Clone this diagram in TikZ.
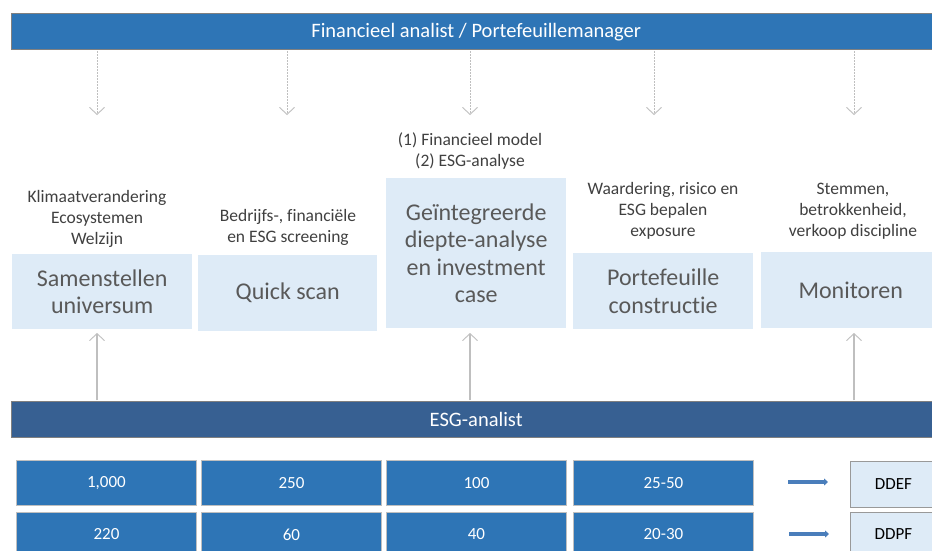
\documentclass[tikz,border=0pt]{standalone}
\usepackage{fontspec}
\setmainfont{Carlito}[Ligatures=NoCommon]
\usetikzlibrary{arrows.meta}
\definecolor{topblue}{HTML}{2E75B6}
\definecolor{esgblue}{HTML}{376092}
\definecolor{lightbox}{HTML}{DEEBF7}
\definecolor{boxtext}{HTML}{595959}
\definecolor{labeltext}{HTML}{404040}
\definecolor{linegray}{HTML}{BFBFBF}
\definecolor{bargray}{HTML}{808080}
\definecolor{arrowblue}{HTML}{4A7EBB}
\begin{document}
\begin{tikzpicture}[x=1pt,y=-1pt,
  bar/.style={draw=bargray, line width=1.4pt, text=white, inner sep=0pt, anchor=north west,
    font=\fontsize{20.5}{24}\selectfont},
  stage/.style={fill=lightbox, draw=none, text=boxtext, inner sep=0pt, anchor=north west, align=center,
    font=\fontsize{24}{27.5}\selectfont},
  lbl/.style={text=labeltext, align=center, inner sep=0pt, font=\fontsize{17.5}{21}\selectfont},
  numbox/.style={fill=topblue, draw=linegray, line width=0.9pt, text=white, inner sep=0pt,
    anchor=north west, minimum width=180pt, font=\fontsize{17}{20}\selectfont},
  ddbox/.style={fill=lightbox, draw=linegray!80!black, line width=0.9pt, text=black, inner sep=0pt,
    anchor=north west, minimum width=86pt, font=\fontsize{17}{20}\selectfont},
  downarr/.style={draw=linegray, line width=0.9pt, dash pattern=on 2pt off 1pt,
    -{Straight Barb[length=7pt,width=15pt,line width=0.9pt]}},
  uparr/.style={draw=linegray, line width=1.2pt,
    -{Straight Barb[length=7pt,width=15pt,line width=0.9pt]}},
  fatarr/.style={draw=arrowblue, line width=3.2pt, -{Triangle[length=4pt,width=7pt]}}
]
\clip (0,0) rectangle (932,551);
\fill[white] (0,0) rectangle (932,551);

% bars
\node[bar, fill=topblue, minimum width=929pt, minimum height=36pt] (fin) at (11,13) {Financieel analist / Portefeuillemanager};
\node[bar, fill=esgblue, minimum width=929pt, minimum height=36pt] (esg) at (11,401) {ESG-analist};

% stage boxes
\node[stage, minimum width=180pt, minimum height=75pt] (s1) at (12,254) {Samenstellen\\universum};
\node[stage, minimum width=179pt, minimum height=76pt] (s2) at (198,255) {Quick scan};
\node[stage, minimum width=180pt, minimum height=150pt] (s3) at (386,178) {Geïntegreerde\\diepte-analyse\\en investment\\case};
\node[stage, minimum width=180pt, minimum height=76pt] (s4) at (573,253) {Portefeuille\\constructie};
\node[stage, minimum width=179pt, minimum height=76pt] (s5) at (761,252) {Monitoren};

% labels above stages
\node[lbl] (l1) at (97,219) {Klimaatverandering\\Ecosystemen\\Welzijn};
\node[lbl] (l2) at (288,227) {Bedrijfs-, financiële\\en ESG screening};
\node[lbl] (l3) at (470,151) {(1) Financieel model\\(2) ESG-analyse};
\node[lbl] (l4) at (663,211) {Waardering, risico en\\ESG bepalen\\exposure};
\node[lbl] (l5) at (853,211) {Stemmen,\\betrokkenheid,\\verkoop discipline};

% down arrows
\coordinate (d1) at (97,115);
\coordinate (d2) at (287,115);
\coordinate (d3) at (470,115);
\coordinate (d4) at (654,115);
\coordinate (d5) at (854,115);
\foreach \d in {d1,d2,d3,d4,d5}
  \draw[downarr] ([yshift=-1pt]fin.south -| \d) -- (\d);

% up arrows
\coordinate (u1) at (97,333);
\coordinate (u3) at (470,333);
\coordinate (u5) at (854,333);
\foreach \u in {u1,u3,u5}
  \draw[uparr] ([yshift=1pt]esg.north -| \u) -- (\u);

% number boxes
\node[numbox, minimum height=45pt] (n11) at (16,460) {1,000};
\node[numbox, minimum height=45pt] (n12) at (201,460) {250};
\node[numbox, minimum height=45pt] (n13) at (386,460) {100};
\node[numbox, minimum height=45pt] (n14) at (573,460) {25-50};
\node[numbox, minimum height=44pt] (n21) at (16,512) {220};
\node[numbox, minimum height=44pt] (n22) at (201,512) {60};
\node[numbox, minimum height=44pt] (n23) at (386,512) {40};
\node[numbox, minimum height=44pt] (n24) at (573,512) {20-30};

% DD boxes
\node[ddbox, minimum height=46pt] (dd1) at (850,461) {DDEF};
\node[ddbox, minimum height=44pt] (dd2) at (850,512) {DDPF};

% fat arrows
\coordinate (a1s) at (788,482);
\coordinate (a1e) at (828,482);
\coordinate (a2s) at (789,534);
\coordinate (a2e) at (829,534);
\draw[fatarr] (a1s) -- (a1e);
\draw[fatarr] (a2s) -- (a2e);
\end{tikzpicture}
\end{document}
